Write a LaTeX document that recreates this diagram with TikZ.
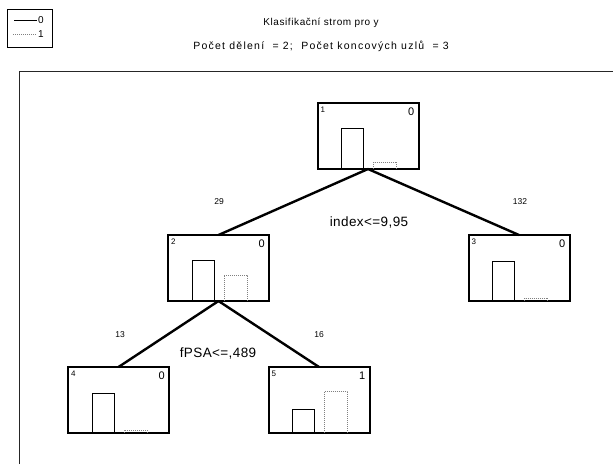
\documentclass[tikz,border=0pt]{standalone}
\usepackage{fontspec}
\setmainfont{Liberation Sans}
\usetikzlibrary{calc}

% class histogram inside a tree node: #1 node, #2 height of class 0, #3 height of class 1
\newcommand\histbars[3]{%
  \draw[barzero] ($(#1.south west)+(24,0)$) -- ++(0,-#2) -- ++(22,0) -- ++(0,#2);
  \draw[barone]  ($(#1.south west)+(56,0)$) -- ++(0,-#3) -- ++(23,0) -- ++(0,#3);
}

\begin{document}
\begin{tikzpicture}[x=1pt,y=-1pt,
  treenode/.style={draw, line width=2pt, minimum width=101pt, minimum height=66pt,
    inner sep=0pt, outer sep=0pt},
  branch/.style={line width=2.4pt},
  barzero/.style={line width=0.7pt, black},
  barone/.style={line width=0.6pt, gray, dash pattern=on 1pt off 1pt},
  nodeid/.style={font=\fontsize{8}{9}\selectfont, inner sep=0pt},
  nodeclass/.style={font=\fontsize{11}{13}\selectfont, inner sep=0pt},
  count/.style={font=\fontsize{8.5}{10}\selectfont, inner sep=0pt},
  split/.style={font=\fontsize{13.5}{16}\selectfont\addfontfeature{LetterSpace=3}, inner sep=0pt},
  heading/.style={font=\fontsize{10}{12}\selectfont\addfontfeature{LetterSpace=6}, inner sep=0pt},
  subheading/.style={font=\fontsize{10.5}{12}\selectfont\addfontfeature{LetterSpace=12}, inner sep=0pt},
  legendtext/.style={font=\fontsize{10}{12}\selectfont, inner sep=0pt}]

\useasboundingbox (0,0) rectangle (613,464);

% legend
\node[draw, line width=0.6pt, minimum width=45pt, minimum height=38pt, inner sep=0pt] (legend) at (29.5,28) {};
\coordinate (l0a) at (14,20);
\coordinate (l0b) at (37,20);
\coordinate (l1a) at (13,34);
\coordinate (l1b) at (37,34);
\draw[barzero] (l0a) -- (l0b);
\draw[barone] (l1a) -- (l1b);
\node[legendtext, anchor=west] (leg0) at (38,20) {0};
\node[legendtext, anchor=west] (leg1) at (38,34) {1};

% headings
\node[heading] (title) at (321,23) {Klasifikační strom pro y};
\node[subheading] (subtitle) at (321,46) {Počet dělení\ \ = 2;\ \ Počet koncových uzlů\ \ = 3};

% plot frame
\coordinate (frametl) at (19,71);
\draw[line width=0.8pt, black!85] (frametl |- 0,464) -- (frametl) -- (613,71);

% tree nodes
\node[treenode] (n1) at (368,136) {};
\node[treenode] (n2) at (218.5,268) {};
\node[treenode] (n3) at (519,268) {};
\node[treenode] (n4) at (118.5,400) {};
\node[treenode] (n5) at (319,400) {};

% branches
\draw[branch] (n1.south) -- (n2.north);
\draw[branch] (n1.south) -- (n3.north);
\draw[branch] (n2.south) -- (n4.north);
\draw[branch] (n2.south) -- (n5.north);

% histograms
\histbars{n1}{41}{7}
\histbars{n2}{41}{26}
\histbars{n3}{40}{3}
\histbars{n4}{40}{3}
\histbars{n5}{24}{42}

% node numbers and predicted classes
\foreach \n/\c in {1/0,2/0,3/0,4/0,5/1}{
  \node[nodeid, anchor=north west] at ($(n\n.north west)+(3,4)$) {\n};
  \node[nodeclass, anchor=north east] at ($(n\n.north east)+(-4,5)$) {\c};
}

% node sizes
\node[count] (c2) at (219,202) {29};
\node[count] (c3) at (520,202) {132};
\node[count] (c4) at (120,335) {13};
\node[count] (c5) at (319,335) {16};

% split conditions
\node[split] (s1) at (369,222) {index<=9,95};
\node[split] (s2) at (218,353) {fPSA<=,489};

\end{tikzpicture}
\end{document}
